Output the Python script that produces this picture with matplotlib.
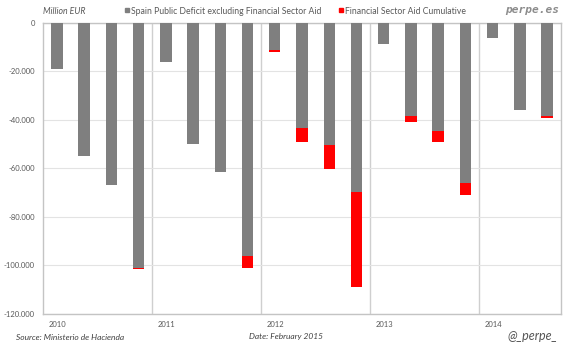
import matplotlib
matplotlib.use("Agg")
import matplotlib.pyplot as plt
from matplotlib.lines import Line2D
from matplotlib.ticker import FuncFormatter, MultipleLocator

plt.rcParams['font.family'] = ['Lato', 'DejaVu Sans']

years = ["2010", "2011", "2012", "2013", "2014"]
quarters = ["2010Q1", "2010Q2", "2010Q3", "2010Q4",
            "2011Q1", "2011Q2", "2011Q3", "2011Q4",
            "2012Q1", "2012Q2", "2012Q3", "2012Q4",
            "2013Q1", "2013Q2", "2013Q3", "2013Q4",
            "2014Q1", "2014Q2", "2014Q3"]
deficit_ex_aid = [-19300, -54800, -66900, -100900,
                  -16100, -50000, -61400, -96100,
                  -11300, -43500, -50300, -69600,
                  -8800, -38500, -44500, -66200,
                  -6500, -36000, -38300]
aid_cumulative = [0, 0, 0, -400,
                  0, 0, 0, -4800,
                  -1000, -5500, -10100, -39100,
                  0, -2600, -4800, -4800,
                  0, 0, -900]

GRAY = "#7f7f7f"
RED = "#ff0000"
TXT = "#595959"

fig = plt.figure(figsize=(5.75, 3.52), dpi=100)
ax = fig.add_axes([43.3/575, 1-314/352, (560.7-43.3)/575, (314-22.5)/352])

x = list(range(len(quarters)))
ax.bar(x, deficit_ex_aid, width=0.42, color=GRAY, zorder=3)
ax.bar(x, aid_cumulative, width=0.42, bottom=deficit_ex_aid, color=RED, zorder=3)

ax.set_xlim(-0.5, len(quarters) - 0.5)
ax.set_ylim(-120000, 0)
ax.yaxis.set_major_locator(MultipleLocator(20000))
ax.yaxis.set_major_formatter(FuncFormatter(lambda v, p: f"{int(v):,}".replace(",", ".")))
ax.grid(axis='y', color="#e3e3e3", linewidth=0.8, zorder=0)
ax.tick_params(axis='y', length=0, labelsize=5.5, labelcolor=TXT, pad=6)
ax.set_xticks([])

for i in range(1, len(years)):
    ax.axvline(4*i - 0.5, color="#cfcfcf", linewidth=1.0, zorder=1)
for i, yr in enumerate(years):
    ax.text(4*i - 0.5 + 0.2, -123000, yr, ha='left', va='top', fontsize=5.5, color=TXT)

for s in ax.spines.values():
    s.set_color("#c4c4c4")
    s.set_linewidth(1.0)

fig.text(43/575, 1-11/352, "Million EUR", style='italic', fontsize=6.3, color=TXT, va='center', ha='left')
handles = [Line2D([], [], marker='s', linestyle='none', markersize=3.3, color=GRAY),
           Line2D([], [], marker='s', linestyle='none', markersize=3.3, color=RED)]
fig.legend(handles, ["Spain Public Deficit excluding Financial Sector Aid",
                     "Financial Sector Aid Cumulative"],
           loc='center left', bbox_to_anchor=(124/575, 1-11/352), ncol=2, frameon=False,
           fontsize=6.2, labelcolor=TXT, handlelength=0.6, handletextpad=0.25,
           columnspacing=1.9, borderpad=0, borderaxespad=0)
fig.text(559/575, 1-10/352, "perpe.es", family='DejaVu Sans Mono', weight='bold', style='italic',
         fontsize=8, color="#8c8c8c", ha='right', va='center')
fig.text(16/575, 1-337/352, "Source: Ministerio de Hacienda", style='italic', fontsize=6.0,
         color="#404040", ha='left', va='center')
fig.text(249/575, 1-337/352, "Date: February 2015", style='italic', fontsize=6.0,
         color="#404040", ha='left', va='center')
fig.text(558/575, 1-336/352, "@_perpe_", style='italic', fontsize=9,
         color="#555555", ha='right', va='center')

fig.savefig("out.png", dpi=100)
